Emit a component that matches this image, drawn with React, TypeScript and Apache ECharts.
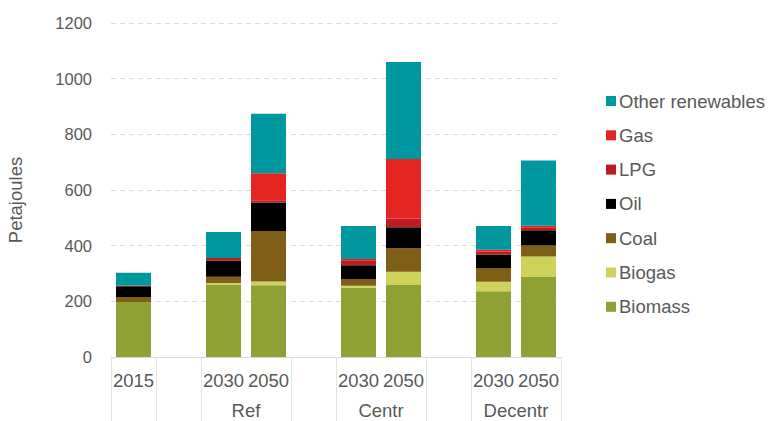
import React, { useEffect, useRef } from "react";
import * as echarts from "echarts";

const years = ["2015", "", "2030", "2050", "", "2030", "2050", "", "2030", "2050"];
const groups = ["", "", "Ref", "Ref", "", "Centr", "Centr", "", "Decentr", "Decentr"];
const yTicks = [0, 200, 400, 600, 800, 1000, 1200];

const biomass = [198, null, 259, 258, null, 249, 259, null, 236, 287];
const biogas = [0, null, 7, 13, null, 7, 47, null, 34, 74];
const coal = [18, null, 22, 182, null, 24, 85, null, 50, 40];
const oil = [38, null, 59, 102, null, 50, 75, null, 48, 54];
const lpg = [3, null, 9, 8, null, 18, 32, null, 10, 11];
const gas = [0, null, 0, 97, null, 4, 213, null, 7, 6];
const otherRenewables = [46, null, 93, 214, null, 119, 349, null, 86, 234];

const seriesNames = ["Biomass", "Biogas", "Coal", "Oil", "LPG", "Gas", "Other renewables"];
const seriesValues = [biomass, biogas, coal, oil, lpg, gas, otherRenewables];
const seriesColors = ["#8FA035", "#CED25A", "#7F5E17", "#000000", "#BF1B20", "#E42623", "#00979F"];

const FONT = "'Liberation Sans', Arial, sans-serif";
const TXT = "#595959";

export default function App() {
  const ref = useRef<HTMLDivElement>(null);
  useEffect(() => {
    if (!ref.current) return;
    const chart = echarts.init(ref.current, null, { renderer: "svg" });

    const boundaryIdx = new Set<number>();
    for (let i = 0; i < years.length; i++) {
      const isGap = years[i] === "";
      if (i === 0 || isGap || groups[i] !== groups[i - 1] || (groups[i] === "" && years[i] !== "")) {
        boundaryIdx.add(i);
      }
      if (isGap && i + 1 < years.length) boundaryIdx.add(i + 1);
    }
    const groupCenter: Record<string, string> = {};
    let i = 0;
    while (i < groups.length) {
      let j = i;
      while (j + 1 < groups.length && groups[j + 1] === groups[i]) j++;
      if (groups[i] !== "") groupCenter[String((i + j + 1) / 2)] = groups[i];
      i = j + 1;
    }

    chart.setOption({
      animation: false,
      textStyle: { fontFamily: FONT },
      grid: { left: 111, right: 211, top: 23, bottom: 64, outerBoundsMode: "none", containLabel: false },
      legend: {
        orient: "vertical",
        left: 601,
        top: 86,
        itemWidth: 10,
        itemHeight: 10,
        itemGap: 14.3,
        icon: "rect",
        data: seriesNames.slice().reverse(),
        textStyle: { fontFamily: FONT, fontSize: 18.5, color: TXT, lineHeight: 20, padding: [0, 0, 0, -2] },
      },
      graphic: [
        {
          type: "text",
          x: 15,
          y: 200,
          rotation: Math.PI / 2,
          style: {
            text: "Petajoules",
            fontSize: 18.5,
            fontFamily: FONT,
            fill: TXT,
            align: "center",
            verticalAlign: "middle",
          },
        },
      ],
      xAxis: [
        {
          type: "category",
          data: years,
          boundaryGap: true,
          axisLine: { show: true, lineStyle: { color: "#d9d9d9", width: 1 } },
          axisTick: {
            show: true,
            length: 64,
            lineStyle: { color: "#e3e3e3", width: 1 },
            interval: (idx: number) => boundaryIdx.has(idx),
          },
          axisLabel: { interval: 0, fontSize: 18.5, color: TXT, margin: 14, fontFamily: FONT },
        },
        {
          type: "value",
          position: "bottom",
          min: 0,
          max: years.length,
          interval: 1,
          offset: 34,
          axisLine: { show: false },
          axisTick: { show: false },
          splitLine: { show: false },
          axisLabel: {
            fontSize: 18.5,
            lineHeight: 19,
            color: TXT,
            margin: 10,
            fontFamily: FONT,
            showMinLabel: true,
            showMaxLabel: true,
            formatter: (v: number) => groupCenter[String(v)] || "",
          },
        },
      ],
      yAxis: {
        type: "value",
        min: yTicks[0],
        max: yTicks[yTicks.length - 1],
        interval: yTicks[1] - yTicks[0],
        axisLine: { show: false },
        axisTick: { show: false },
        axisLabel: {
          fontSize: 16.5,
          color: TXT,
          margin: 19,
          fontFamily: FONT,
          formatter: (v: number) => String(v),
        },
        splitLine: { lineStyle: { color: "#dcdcdc", type: [5, 4], width: 1 } },
      },
      series: seriesNames.map((name, k) => ({
        name,
        type: "bar",
        stack: "total",
        barWidth: 35,
        xAxisIndex: 0,
        itemStyle: { color: seriesColors[k] },
        data: seriesValues[k],
      })),
    });
    return () => chart.dispose();
  }, []);
  return (
    <div
      ref={ref}
      style={{ position: "absolute", left: 0, top: 0, width: 772, height: 421 }}
    />
  );
}
